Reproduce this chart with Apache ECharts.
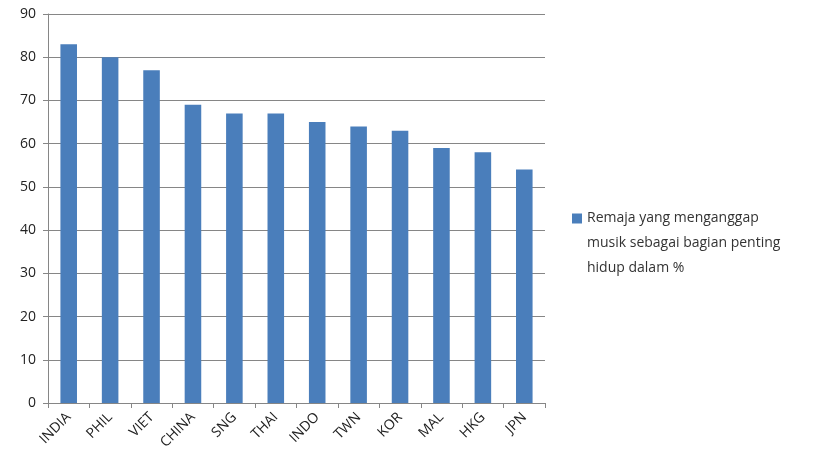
<!DOCTYPE html>
<html>
<head>
<meta charset="utf-8">
<script src="https://cdn.jsdelivr.net/npm/echarts@6/dist/echarts.min.js"></script>
<style>
    html, body { margin: 0; padding: 0; background: #fff; }
    #chart { width: 840px; height: 470px; }
</style>
</head>
<body>
<div id="chart"></div>
<script>
    // data
    const countries = ['INDIA', 'PHIL', 'VIET', 'CHINA', 'SNG', 'THAI', 'INDO', 'TWN', 'KOR', 'MAL', 'HKG', 'JPN'];
    const values = [83, 80, 77, 69, 67, 67, 65, 64, 63, 59, 58, 54];
    const seriesName = 'Remaja yang menganggap musik sebagai bagian penting hidup dalam %';
    const legendLines = ['Remaja yang menganggap', 'musik sebagai bagian penting', 'hidup dalam %'];

    const chart = echarts.init(document.getElementById('chart'));
    const font = "'Open Sans', 'Liberation Sans', sans-serif";

    chart.setOption({
        animation: false,
        textStyle: { fontFamily: font },
        grid: { left: 48, right: 295, top: 14, bottom: 67 },
        legend: {
            data: [seriesName],
            orient: 'vertical',
            left: 572,
            top: 156,
            padding: 0,
            itemWidth: 10,
            itemHeight: 10,
            icon: 'rect',
            // 前面两行空行，让图标对齐第一行文字
            formatter: () => '{e|}\n{e|}\n' + legendLines.join('\n'),
            textStyle: {
                fontSize: 14, color: '#333', lineHeight: 25, fontFamily: font,
                rich: { e: { height: 25, lineHeight: 25 } }
            }
        },
        xAxis: {
            type: 'category',
            data: countries,
            axisLine: { lineStyle: { color: '#868686' } },
            axisTick: { show: true, length: 5, lineStyle: { color: '#868686' } },
            axisLabel: { rotate: 45, fontSize: 14, color: '#222', margin: 12 }
        },
        yAxis: {
            type: 'value',
            min: 0,
            max: 90,
            interval: 10,
            axisLine: { show: true, lineStyle: { color: '#868686' } },
            axisTick: { show: true, length: 5, lineStyle: { color: '#868686' } },
            axisLabel: { fontSize: 14, color: '#222', margin: 12 },
            splitLine: { lineStyle: { color: '#868686' } }
        },
        series: [{
            name: seriesName,
            type: 'bar',
            data: values,
            barWidth: '40%',
            itemStyle: { color: '#4A7EBB' }
        }]
    });
</script>
</body>
</html>
